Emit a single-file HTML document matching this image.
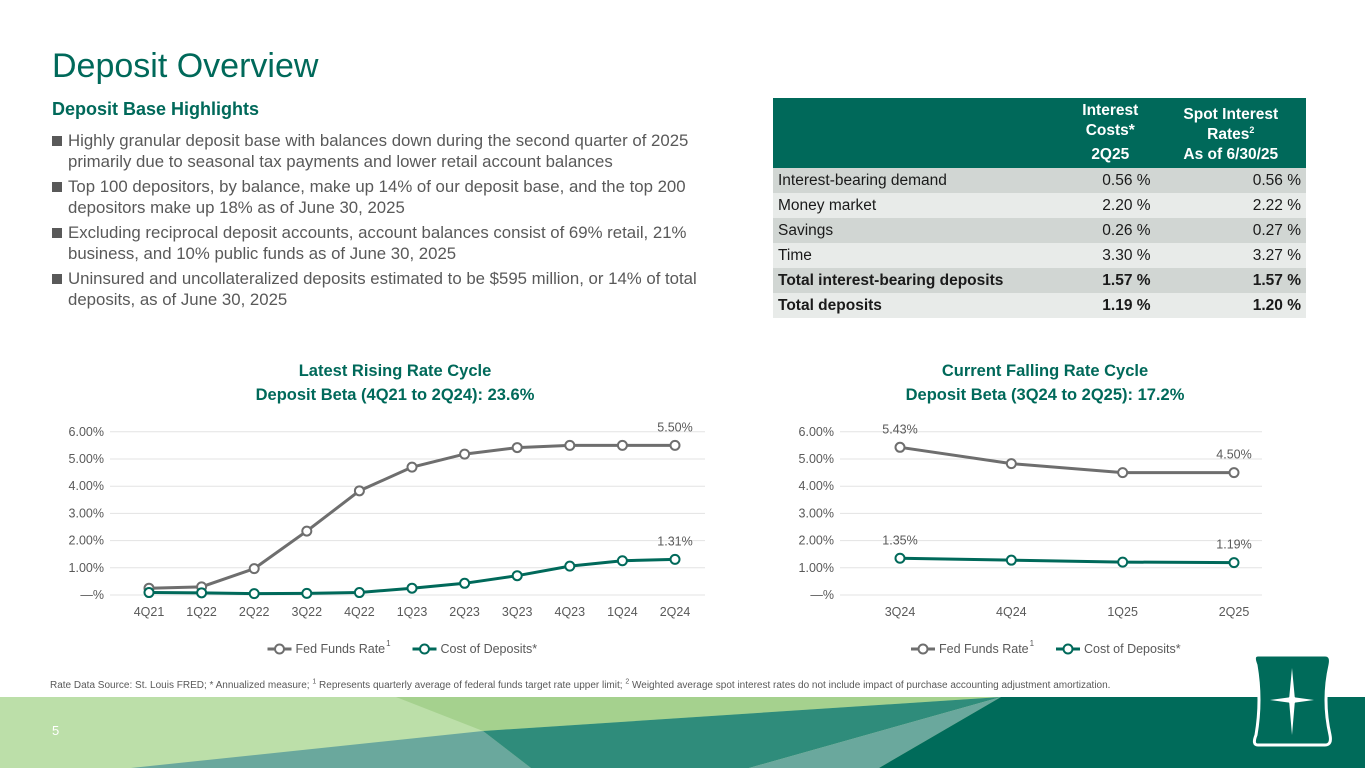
<!DOCTYPE html>
<html><head><meta charset="utf-8">
<style>
body{margin:0;width:1365px;height:768px;overflow:hidden;background:#fff;font-family:"Liberation Sans",sans-serif;position:relative}
.abs{position:absolute}
#title{left:52px;top:47px;font-size:34px;color:#00695a}
#hl{left:52px;top:99px;font-size:18px;font-weight:bold;color:#00695a}
ul{position:absolute;left:52px;top:130px;width:660px;margin:0;padding:0;list-style:none;color:#595959;font-size:16.8px;line-height:21px}
li{padding-left:16px;position:relative;margin-bottom:4px}
li:before{content:"";position:absolute;left:0;top:6px;width:10px;height:10px;background:#595959}
table{position:absolute;left:773px;top:98px;width:533px;border-collapse:collapse;font-size:15.5px;color:#1a1a1a}
th{background:#00695a;color:#fff;font-weight:bold;height:66px;vertical-align:bottom;padding-bottom:3px;line-height:20px}
td{height:25px;padding:0 5px;line-height:25px}
td.n{text-align:right}
tr.a td{background:#d1d6d3}tr.b td{background:#e8ebe9}
.ct{font-size:16.5px;font-weight:bold;color:#00695a;text-align:center;line-height:24px}
#foot{left:50px;top:680px;font-size:10px;color:#595959}
sup{line-height:0}
</style></head><body>
<div id="title" class="abs">Deposit Overview</div>
<div id="hl" class="abs">Deposit Base Highlights</div>
<ul>
<li>Highly granular deposit base with balances down during the second quarter of 2025 primarily due to seasonal tax payments and lower retail account balances</li>
<li>Top 100 depositors, by balance, make up 14% of our deposit base, and the top 200 depositors make up 18% as of June 30, 2025</li>
<li>Excluding reciprocal deposit accounts, account balances consist of 69% retail, 21% business, and 10% public funds as of June 30, 2025</li>
<li>Uninsured and uncollateralized deposits estimated to be $595 million, or 14% of total deposits, as of June 30, 2025</li>
</ul>
<table>
<tr><th style="width:290px"></th><th style="text-align:center">Interest<br>Costs*<br><span style="display:inline-block;margin-top:4px">2Q25</span></th><th style="text-align:center">Spot Interest<br>Rates<sup style="font-size:9px">2</sup><br>As of 6/30/25</th></tr>
<tr class="a"><td>Interest-bearing demand</td><td class="n">0.56 %</td><td class="n">0.56 %</td></tr>
<tr class="b"><td>Money market</td><td class="n">2.20 %</td><td class="n">2.22 %</td></tr>
<tr class="a"><td>Savings</td><td class="n">0.26 %</td><td class="n">0.27 %</td></tr>
<tr class="b"><td>Time</td><td class="n">3.30 %</td><td class="n">3.27 %</td></tr>
<tr class="a" style="font-weight:bold"><td>Total interest-bearing deposits</td><td class="n">1.57 %</td><td class="n">1.57 %</td></tr>
<tr class="b" style="font-weight:bold"><td>Total deposits</td><td class="n">1.19 %</td><td class="n">1.20 %</td></tr>
</table>
<div class="abs ct" style="left:150px;top:359px;width:490px">Latest Rising Rate Cycle<br>Deposit Beta (4Q21 to 2Q24): 23.6%</div>
<div class="abs ct" style="left:800px;top:359px;width:490px">Current Falling Rate Cycle<br>Deposit Beta (3Q24 to 2Q25): 17.2%</div>
<svg id="ch" class="abs" style="left:0;top:0" width="1365" height="768"></svg>
<div id="foot" class="abs">Rate Data Source: St. Louis FRED; * Annualized measure; <sup style="font-size:7px">1</sup> Represents quarterly average of federal funds target rate upper limit; <sup style="font-size:7px">2</sup> Weighted average spot interest rates do not include impact of purchase accounting adjustment amortization.</div>
<svg class="abs" style="left:0;top:0" width="1365" height="768">
<polygon points="0,697 1010,697 1010,768 0,768" fill="#bcdfa9"/>
<polygon points="396,697 1001,697 483,731" fill="#a5d18e"/>
<polygon points="131,768 483,731 531,768" fill="#6aa89d"/>
<polygon points="483,731 1001,697 749,768 531,768" fill="#2f8c7b"/>
<polygon points="1001,697 749,768 879,768" fill="#6aa89d"/>
<polygon points="1001,697 1365,697 1365,768 879,768" fill="#006b5a"/>
<text x="52" y="735" font-size="13" fill="#fff" font-family="Liberation Sans">5</text>
<g>
<path d="M1258,655 H1325 Q1332,655 1330,665 Q1322,700 1330,735 Q1332,745 1325,745 H1258 Q1252,745 1256,735 Q1262,700 1256,665 Q1252,655 1258,655Z" fill="#006b5a" stroke="#fff" stroke-width="3"/>
<path d="M1292,668 L1295,700 L1292,735 L1289,700Z M1270,700 L1292,697 L1314,700 L1292,703Z" fill="#fff"/>
<circle cx="1292" cy="700" r="4" fill="#fff"/>
</g>
</svg>
<script>
const leftCats=["4Q21","1Q22","2Q22","3Q22","4Q22","1Q23","2Q23","3Q23","4Q23","1Q24","2Q24"];
const leftFed=[0.25,0.30,0.97,2.35,3.83,4.70,5.18,5.42,5.50,5.50,5.50];
const leftCost=[0.09,0.08,0.05,0.06,0.09,0.25,0.43,0.71,1.06,1.26,1.31];
const rightCats=["3Q24","4Q24","1Q25","2Q25"];
const rightFed=[5.43,4.83,4.50,4.50];
const rightCost=[1.35,1.28,1.21,1.19];
const yTicks=[0,1,2,3,4,5,6];
const yTickLabels=["—%","1.00%","2.00%","3.00%","4.00%","5.00%","6.00%"];
const svg=document.getElementById('ch');const NS="http://www.w3.org/2000/svg";
function mk(t,a,p){const e=document.createElementNS(NS,t);for(const k in a)e.setAttribute(k,a[k]);(p||svg).appendChild(e);return e;}
function chart(name,x0,x1,first,last,cats,fed,cost,labelIdx){
 const y=v=>595-v*27.2;const step=(last-first)/(cats.length-1);const x=i=>first+i*step;
 const g=mk('g',{});
 
 
 yTicks.forEach((t,i)=>{mk('line',{x1:x0,x2:x1,y1:y(t),y2:y(t),stroke:'#e3e3e3','stroke-width':1},g);
  const l=mk('text',{x:x0-6,y:y(t)+4,'text-anchor':'end','font-size':12.5,fill:'#595959','font-family':'Liberation Sans'},g);l.textContent=yTickLabels[i];
  
  });
 cats.forEach((c,i)=>{const l=mk('text',{x:x(i),y:616,'text-anchor':'middle','font-size':12.5,fill:'#595959','font-family':'Liberation Sans'},g);l.textContent=c;
  
  });
 [[fed,'#6e6e6e','fed-funds'],[cost,'#00695a','cost-of-deposits']].forEach(([d,col,nm])=>{
  const ln=mk('polyline',{points:d.map((v,i)=>x(i)+','+y(v)).join(' '),fill:'none',stroke:col,'stroke-width':3},g);
  
  
  d.forEach((v,i)=>{const c=mk('circle',{cx:x(i),cy:y(v),r:4.5,fill:'#fff',stroke:col,'stroke-width':2},g);
   
   });
  labelIdx.forEach(i=>{const t=mk('text',{x:x(i),y:y(d[i])-14,'text-anchor':'middle','font-size':12.5,fill:'#595959','font-family':'Liberation Sans'},g);t.textContent=d[i].toFixed(2)+'%';
   
   });
 });
 const lx=(x0+x1)/2-140;
 const lg=mk('g',{},g);
 
 
 [['Fed Funds Rate','#6e6e6e',lx,true],['Cost of Deposits*','#00695a',lx+145,false]].forEach(([t,col,px,sup])=>{
  mk('line',{x1:px,x2:px+24,y1:649,y2:649,stroke:col,'stroke-width':3},lg);
  mk('circle',{cx:px+12,cy:649,r:4.5,fill:'#fff',stroke:col,'stroke-width':2},lg);
  const tt=mk('text',{x:px+28,y:653,'font-size':12.5,fill:'#595959','font-family':'Liberation Sans'},lg);tt.textContent=t;
  if(sup){const s=mk('text',{x:px+28+tt.getComputedTextLength()+1,y:646,'font-size':8,fill:'#595959','font-family':'Liberation Sans'},lg);s.textContent='1';}
 });
}
chart('left-chart',110,705,149,675,leftCats,leftFed,leftCost,[10]);
chart('right-chart',840,1262,900,1234,rightCats,rightFed,rightCost,[0,3]);
</script>
</body></html>
